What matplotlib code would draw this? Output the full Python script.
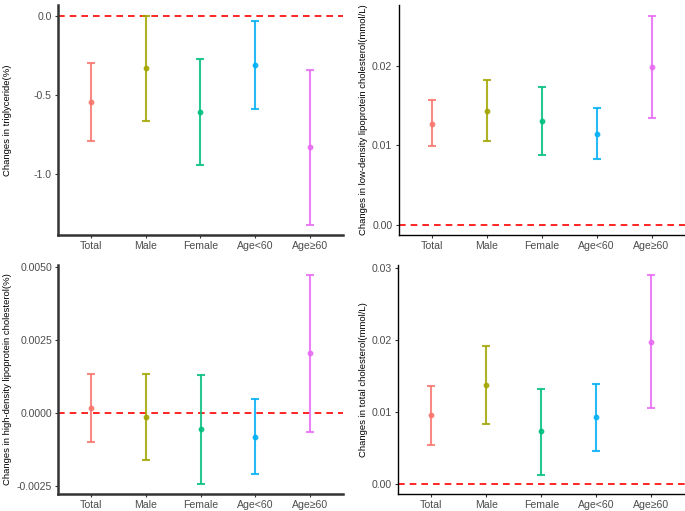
import matplotlib
matplotlib.use("Agg")
import matplotlib.pyplot as plt

plt.rcParams["font.family"] = ["Liberation Sans", "DejaVu Sans"]

groups = ["Total", "Male", "Female", "Age<60", "Age\u226560"]
colors = ["#F8766D", "#A3A500", "#00BF7D", "#00B0F6", "#E76BF3"]

# triglyceride
tg_est = [-0.549, -0.333, -0.610, -0.314, -0.833]
tg_lo = [-0.791, -0.667, -0.945, -0.593, -1.321]
tg_hi = [-0.302, 0.000, -0.276, -0.036, -0.344]

# low-density lipoprotein cholesterol
ldl_est = [0.01273, 0.01437, 0.01307, 0.01147, 0.01988]
ldl_lo = [0.00988, 0.01055, 0.00882, 0.00832, 0.01341]
ldl_hi = [0.01568, 0.01824, 0.01736, 0.01475, 0.02640]

# high-density lipoprotein cholesterol
hdl_est = [0.00017, -0.00016, -0.00057, -0.00082, 0.00203]
hdl_lo = [-0.00100, -0.00163, -0.00242, -0.00211, -0.00067]
hdl_hi = [0.00133, 0.00133, 0.00129, 0.00047, 0.00471]

# total cholesterol
tc_est = [0.00947, 0.01373, 0.00726, 0.00920, 0.01974]
tc_lo = [0.00536, 0.00828, 0.00125, 0.00458, 0.01050]
tc_hi = [0.01359, 0.01914, 0.01322, 0.01391, 0.02899]

panels = [
    ([0.0847, 0.540, 0.416, 0.450], tg_est, tg_lo, tg_hi,
     "Changes in triglyceride(%)", [0.0, -0.5, -1.0], ["0.0", "-0.5", "-1.0"],
     "#333333", 1.8, 12 / 685),
    ([0.5818, 0.540, 0.4175, 0.450], ldl_est, ldl_lo, ldl_hi,
     "Changes in low-density lipoprotein cholesterol(mmol/L)", [0.0, 0.01, 0.02],
     ["0.00", "0.01", "0.02"], "black", 1.0, 368 / 685),
    ([0.0851, 0.0333, 0.4156, 0.4487], hdl_est, hdl_lo, hdl_hi,
     "Changes in high-density lipoprotein cholesterol(%)", [-0.0025, 0.0, 0.0025, 0.005],
     ["-0.0025", "0.0000", "0.0025", "0.0050"], "#333333", 1.8, 12 / 685),
    ([0.581, 0.0333, 0.4183, 0.4487], tc_est, tc_lo, tc_hi,
     "Changes in total cholesterol(mmol/L)", [0.0, 0.01, 0.02, 0.03],
     ["0.00", "0.01", "0.02", "0.03"], "black", 1.0, 368 / 685),
]

fig = plt.figure(figsize=(6.85, 5.11), dpi=100)

for rect, est, lo, hi, ylabel, yt, ytl, spc, spw, lab_x in panels:
    ax = fig.add_axes(rect)
    x = list(range(1, len(groups) + 1))
    for i in range(len(groups)):
        ax.errorbar(x[i], est[i], yerr=[[est[i] - lo[i]], [hi[i] - est[i]]],
                    fmt="o", color=colors[i], ecolor=colors[i], markersize=3.2,
                    elinewidth=1.5, capsize=3, capthick=1.5, alpha=0.85, zorder=3)
    ax.axhline(0, color="#FF0000", linestyle=(0, (4, 3)), linewidth=1.2, zorder=2)
    lo_all = min(min(lo), 0)
    hi_all = max(max(hi), 0)
    pad = (hi_all - lo_all) * 0.05
    ax.set_ylim(lo_all - pad, hi_all + pad)
    ax.set_xlim(0.4, 5.6)
    ax.set_xticks(x)
    ax.set_xticklabels(groups)
    ax.set_yticks(yt)
    ax.set_yticklabels(ytl)
    ax.tick_params(axis="both", labelsize=7.6, labelcolor="#4D4D4D", color="#333333",
                   length=2.5, width=0.8, pad=2)
    ax.set_ylabel(ylabel, fontsize=6.8, color="black")
    ax.yaxis.set_label_coords(lab_x, rect[1] + rect[3] / 2, transform=fig.transFigure)
    for s in ["top", "right"]:
        ax.spines[s].set_visible(False)
    for s in ["left", "bottom"]:
        ax.spines[s].set_color(spc)
        ax.spines[s].set_linewidth(spw)

fig.savefig("out.png", dpi=100)
